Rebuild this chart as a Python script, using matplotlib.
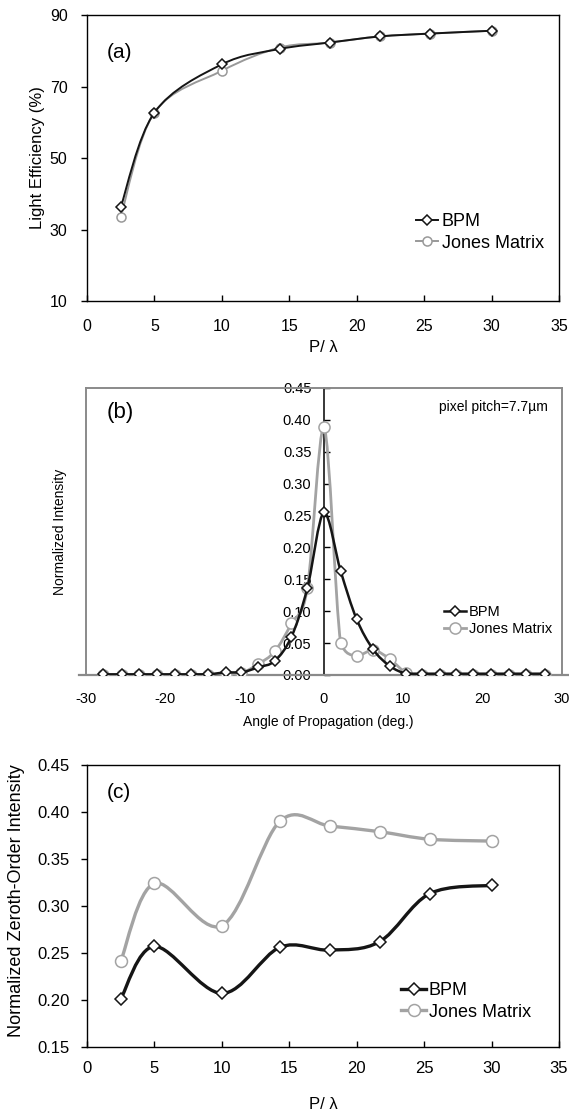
import numpy as np
import matplotlib
matplotlib.use('Agg')
import matplotlib.pyplot as plt
from matplotlib.path import Path
from matplotlib.patches import PathPatch
from matplotlib.lines import Line2D

plt.rcParams['font.family'] = ['Liberation Sans', 'DejaVu Sans']
plt.rcParams['axes.unicode_minus'] = False

# (a) light efficiency vs P/lambda
a_x = [2.5, 5, 10, 14.3, 18, 21.7, 25.4, 30]
a_bpm = [36.3, 62.7, 76.2, 80.5, 82.3, 84.0, 84.8, 85.6]
a_jones = [33.5, 62.7, 74.4, 80.9, 82.3, 84.0, 84.8, 85.6]

# (b) normalized intensity vs angle of propagation
b_angle = [-27.8, -25.5, -23.3, -21.0, -18.8, -16.7, -14.6, -12.4, -10.4, -8.3,
           -6.2, -4.1, -2.1, 0.0, 2.1, 4.1, 6.2, 8.3, 10.4, 12.4, 14.6, 16.7,
           18.8, 21.0, 23.3, 25.5, 27.8]
b_bpm = [0.001, 0.001, 0.001, 0.001, 0.001, 0.001, 0.001, 0.004, 0.004, 0.012,
         0.022, 0.060, 0.136, 0.255, 0.163, 0.088, 0.040, 0.014, 0.002, 0.002,
         0.002, 0.002, 0.002, 0.002, 0.002, 0.002, 0.002]
b_jones = [0.0, 0.0, 0.0, 0.0, 0.0, 0.0, 0.0, 0.0, 0.003, 0.017,
           0.037, 0.081, 0.136, 0.389, 0.050, 0.030, 0.039, 0.025, 0.003, 0.0,
           0.0, 0.0, 0.0, 0.0, 0.0, 0.0, 0.0]

# (c) zeroth-order intensity vs P/lambda
c_x = [2.5, 5, 10, 14.3, 18, 21.7, 25.4, 30]
c_bpm = [0.201, 0.257, 0.207, 0.256, 0.253, 0.262, 0.313, 0.322]
c_jones = [0.241, 0.324, 0.279, 0.390, 0.385, 0.379, 0.371, 0.369]

BLACK = '#151515'
GRAY = '#a3a3a3'


def smooth(ax, x, y, color, lw, z, clamp=False):
    # smoothed line: cubic Bezier through the points
    pts = np.column_stack([x, y]).astype(float)
    n = len(pts)
    verts = [pts[0]]
    codes = [Path.MOVETO]
    for i in range(n - 1):
        p0 = pts[i - 1] if i > 0 else pts[i]
        p1, p2 = pts[i], pts[i + 1]
        p3 = pts[i + 2] if i + 2 < n else pts[i + 1]
        c1 = p1 + (p2 - p0) / 6
        c2 = p2 - (p3 - p1) / 6
        if clamp:
            lo, hi = min(p1[1], p2[1]), max(p1[1], p2[1])
            c1[1] = min(max(c1[1], lo), hi)
            c2[1] = min(max(c2[1], lo), hi)
        verts += [c1, c2, p2]
        codes += [Path.CURVE4] * 3
    ax.add_patch(PathPatch(Path(verts, codes), fill=False, edgecolor=color,
                           lw=lw, zorder=z, capstyle='round', joinstyle='round'))


def series(ax, x, y, color, lw, marker, ms, z, clamp=False):
    smooth(ax, x, y, color, lw, z, clamp)
    ax.plot(x, y, linestyle='none', marker=marker, ms=ms, mfc='white',
            mec=color, mew=1.1, zorder=z + 0.5)
    return Line2D([], [], color=color, lw=lw, marker=marker, ms=ms,
                  mfc='white', mec=color, mew=1.1)


fig = plt.figure(figsize=(5.69, 11.12), dpi=100)

# ---------------- (a)
ax1 = fig.add_axes([0.1529, 0.7293, 0.8295, 0.2572])
ax1.set_xlim(0, 35)
ax1.set_ylim(10, 90)
h1 = series(ax1, a_x, a_jones, '#999999', 1.4, 'o', 6.5, 3)
h2 = series(ax1, a_x, a_bpm, BLACK, 1.4, 'D', 5.0, 4)
ax1.set_xticks(range(0, 36, 5))
ax1.set_yticks([10, 30, 50, 70, 90])
ax1.tick_params(axis='x', direction='in', length=4, width=1, pad=13, labelsize=11.5)
ax1.tick_params(axis='y', direction='out', length=4, width=1, pad=10, labelsize=11.5)
for s in ax1.spines.values():
    s.set_linewidth(1.0)
ax1.set_ylabel('Light Efficiency (%)', fontsize=12)
ax1.yaxis.set_label_coords(-0.089, 0.5)
ax1.set_xlabel('P/ λ', fontsize=12)
ax1.xaxis.set_label_coords(0.5, -0.135)
ax1.text(0.042, 0.87, '(a)', transform=ax1.transAxes, fontsize=15, va='center')
ax1.legend([h2, h1], ['BPM', 'Jones Matrix'], loc='center left',
           bbox_to_anchor=(0.698, 0.24), frameon=False, fontsize=13,
           handlelength=1.2, handletextpad=0.2, labelspacing=0.25,
           borderpad=0, borderaxespad=0)

# ---------------- (b)
BOX = '#8a8a8a'
ax2 = fig.add_axes([0.1511, 0.3930, 0.8366, 0.2581])
ax2.set_xlim(-30, 30)
ax2.set_ylim(0, 0.45)
h3 = series(ax2, b_angle, b_jones, GRAY, 2.0, 'o', 8, 3, clamp=True)
h4 = series(ax2, b_angle, b_bpm, BLACK, 1.8, 'D', 5.0, 4, clamp=True)
ax2.set_xticks(range(-30, 31, 10))
ax2.set_yticks(np.arange(0, 0.451, 0.05))
ax2.yaxis.set_major_formatter(matplotlib.ticker.FormatStrFormatter('%.2f'))
ax2.spines['left'].set_position(('data', 0))
ax2.spines['left'].set_color(BLACK)
ax2.spines['left'].set_linewidth(1.2)
ax2.spines['left'].set_zorder(2)
for k in ['top', 'right', 'bottom']:
    ax2.spines[k].set_color(BOX)
    ax2.spines[k].set_linewidth(1.4)
ax2.axvline(-30, color=BOX, lw=1.4, clip_on=False)
ax2.axhline(0, xmin=-0.015, xmax=1.015, color=BOX, lw=1.6, clip_on=False, zorder=2)
ax2.tick_params(axis='x', length=0, pad=12, labelsize=10.5)
ax2.tick_params(axis='y', direction='in', length=4, width=1, pad=9, labelsize=10.5)
ax2.set_ylabel('Normalized Intensity', fontsize=10)
ax2.yaxis.set_label_coords(-0.04, 0.5)
ax2.set_xlabel('Angle of Propagation (deg.)', fontsize=10)
ax2.xaxis.set_label_coords(0.508, -0.14)
ax2.text(0.044, 0.916, '(b)', transform=ax2.transAxes, fontsize=16, va='center')
ax2.text(0.97, 0.934, 'pixel pitch=7.7µm', transform=ax2.transAxes,
         fontsize=10, ha='right', va='center')
ax2.legend([h4, h3], ['BPM', 'Jones Matrix'], loc='center left',
           bbox_to_anchor=(0.752, 0.19), frameon=False, fontsize=10.5,
           handlelength=1.5, handletextpad=0.2, labelspacing=0.25,
           borderpad=0, borderaxespad=0)

# ---------------- (c)
ax3 = fig.add_axes([0.1529, 0.0585, 0.8295, 0.2536])
ax3.set_xlim(0, 35)
ax3.set_ylim(0.15, 0.45)
h5 = series(ax3, c_x, c_jones, GRAY, 2.4, 'o', 8.6, 3)
h6 = series(ax3, c_x, c_bpm, BLACK, 2.4, 'D', 6.4, 4)
ax3.set_xticks(range(0, 36, 5))
ax3.set_yticks(np.arange(0.15, 0.451, 0.05))
ax3.yaxis.set_major_formatter(matplotlib.ticker.FormatStrFormatter('%.2f'))
ax3.tick_params(axis='x', direction='in', length=4, width=1, pad=10, labelsize=12)
ax3.tick_params(axis='y', direction='out', length=4, width=1, pad=8.5, labelsize=12)
for s in ax3.spines.values():
    s.set_linewidth(1.0)
ax3.set_ylabel('Normalized Zeroth-Order Intensity', fontsize=13)
ax3.yaxis.set_label_coords(-0.131, 0.52)
ax3.set_xlabel('P/ λ', fontsize=12)
ax3.xaxis.set_label_coords(0.5, -0.177)
ax3.text(0.042, 0.904, '(c)', transform=ax3.transAxes, fontsize=15, va='center')
ax3.legend([h6, h5], ['BPM', 'Jones Matrix'], loc='center left',
           bbox_to_anchor=(0.665, 0.161), frameon=False, fontsize=13,
           handlelength=1.4, handletextpad=0.15, labelspacing=0.25,
           borderpad=0, borderaxespad=0)

fig.savefig('out.png', dpi=100)
